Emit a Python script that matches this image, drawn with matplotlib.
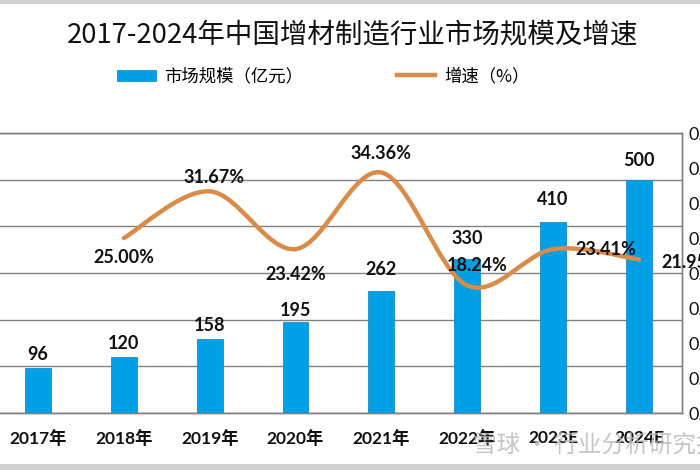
import matplotlib
matplotlib.use("Agg")
import matplotlib.pyplot as plt
from matplotlib.path import Path
from matplotlib.patches import PathPatch, Rectangle, Patch
from matplotlib.lines import Line2D

# 数据
YEARS = ['2017年', '2018年', '2019年', '2020年', '2021年', '2022年', '2023E', '2024E']
MARKET = [96, 120, 158, 195, 262, 330, 410, 500]           # 市场规模（亿元）
GROWTH = [None, 0.25, 0.3167, 0.2342, 0.3436, 0.1824, 0.2341, 0.2195]  # 增速
GROWTH_TEXT = ['', '25.00%', '31.67%', '23.42%', '34.36%', '18.24%', '23.41%', '21.95%']
# 增速标签的摆放：(dx, dy) 以 points 计
GROWTH_OFFSET = [(0, 0), (0, -14), (3, 10), (0, -18), (0, 14), (7, 14), (38, 0), (38, -2)]
BAR_LABEL_PAD = [4, 4, 4, 2, 9, 9, 10, 8]

BAR_COLOR = '#00A0E6'
LINE_COLOR = '#D98B48'
GRID_COLOR = '#808080'
LABEL_FONT = ['Lato', 'Noto Sans CJK SC']
CJK_FONT = ['Noto Sans CJK SC', 'DejaVu Sans']

plt.rcParams['font.family'] = CJK_FONT

fig = plt.figure(figsize=(7, 4.7), dpi=100)
fig.patch.set_facecolor('white')

ax = fig.add_axes([-0.007, 0.121, 0.981, 0.596])
ax2 = ax.twinx()

x = list(range(len(YEARS)))
bars = ax.bar(x, MARKET, width=0.3, color=BAR_COLOR, edgecolor='#1B8CC4',
              linewidth=0.6, zorder=3)
for i, v in enumerate(MARKET):
    ax.annotate(str(v), (i, v), xytext=(0, BAR_LABEL_PAD[i]),
                textcoords='offset points', ha='center', va='bottom',
                fontsize=13, fontweight='bold', family=LABEL_FONT, color='#111111',
                zorder=5)

ax.set_xlim(-0.5, len(YEARS) - 0.5)
ax.set_ylim(0, 600)
ax.set_yticks(range(0, 601, 100))
ax.grid(axis='y', color=GRID_COLOR, linewidth=1.0, zorder=0)
ax.set_axisbelow(True)
ax.set_xticks(x)
ax.set_xticklabels(YEARS, fontsize=12.5, fontweight='bold', family=LABEL_FONT,
                   color='#111111')
ax.tick_params(axis='x', length=0, pad=12)
# 左轴刻度在截图外，看不到
ax.tick_params(axis='y', length=0, labelleft=False)
for s in ax.spines.values():
    s.set_color(GRID_COLOR)
    s.set_linewidth(1.0)

# 增速：平滑曲线（Excel 风格的贝塞尔平滑）
pts = [(i, g) for i, g in enumerate(GROWTH) if g is not None]
verts = [pts[0]]
codes = [Path.MOVETO]
n = len(pts)
for k in range(n - 1):
    p0 = pts[k - 1] if k > 0 else pts[k]
    p1 = pts[k]
    p2 = pts[k + 1]
    p3 = pts[k + 2] if k + 2 < n else pts[k + 1]
    c1 = (p1[0] + (p2[0] - p0[0]) / 6, p1[1] + (p2[1] - p0[1]) / 6)
    c2 = (p2[0] - (p3[0] - p1[0]) / 6, p2[1] - (p3[1] - p1[1]) / 6)
    verts += [c1, c2, p2]
    codes += [Path.CURVE4] * 3
ax2.add_patch(PathPatch(Path(verts, codes), facecolor='none', edgecolor=LINE_COLOR,
                        linewidth=3.2, capstyle='round', zorder=4))

for i, g in enumerate(GROWTH):
    if g is None:
        continue
    dx, dy = GROWTH_OFFSET[i]
    ax2.annotate(GROWTH_TEXT[i], (i, g), xytext=(dx, dy), textcoords='offset points',
                 ha='center', va='center', fontsize=13, fontweight='bold',
                 family=LABEL_FONT, color='#111111', zorder=6)

ax2.set_ylim(0, 0.40)
ax2.set_yticks([k * 0.05 for k in range(9)])
ax2.set_yticklabels(['%.2f' % (k * 0.05) for k in range(9)], fontsize=13,
                    family=LABEL_FONT, color='#111111')
ax2.tick_params(axis='y', length=0, pad=5)
for s in ax2.spines.values():
    s.set_color(GRID_COLOR)
    s.set_linewidth(1.0)

# 标题与图例
fig.text(0.503, 0.925, '2017-2024年中国增材制造行业市场规模及增速', ha='center',
         va='center', fontsize=19.8, color='#111111')
handles = [Patch(facecolor=BAR_COLOR, edgecolor='#1B8CC4', linewidth=0.6),
           Line2D([0], [0], color=LINE_COLOR, linewidth=3.2)]
fig.legend(handles, ['市场规模（亿元）', '增速（%）'], loc='center',
           bbox_to_anchor=(0.462, 0.838), ncol=2, frameon=False, fontsize=12.5,
           handlelength=2.2, handleheight=0.6, columnspacing=5.4, handletextpad=0.5)

# 水印
fig.text(0.675, 0.052, '雪球 · 行业分析研究报告', ha='left', va='center',
         fontsize=17, color='#B8B8B8', alpha=0.8, zorder=10)

# 截图上下的灰色边
fig.patches.append(Rectangle((0, 0.991), 1, 0.009, transform=fig.transFigure,
                             facecolor='#D0D0D0', edgecolor='none'))
fig.patches.append(Rectangle((0, 0), 1, 0.012, transform=fig.transFigure,
                             facecolor='#D0D0D0', edgecolor='none'))

fig.savefig('out.png', dpi=100)
